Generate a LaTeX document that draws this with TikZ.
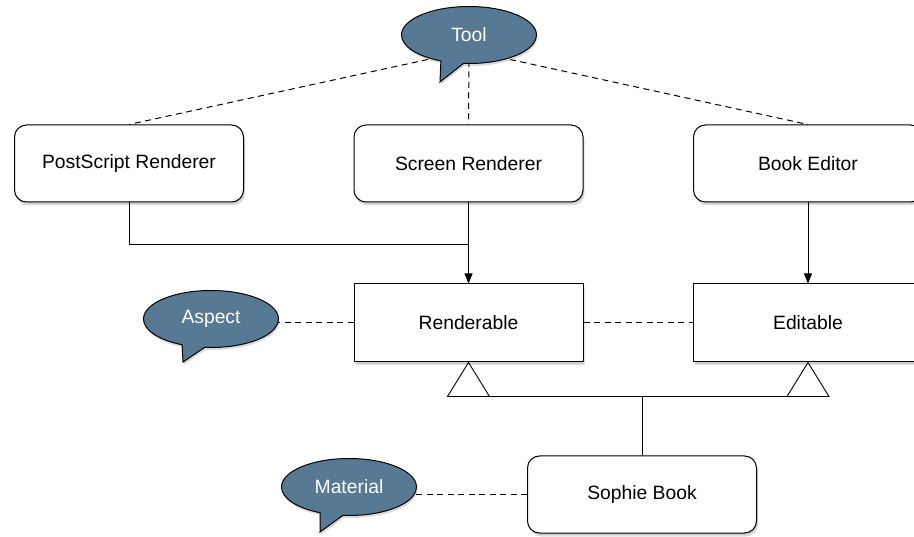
\documentclass[tikz,border=0pt]{standalone}
\usepackage{fontspec}
\setmainfont{Liberation Sans}
\usetikzlibrary{shapes.callouts,shadows,calc,arrows.meta,backgrounds}
\definecolor{bubblefill}{RGB}{88,121,147}
\begin{document}
\begin{tikzpicture}[x=1pt,y=-1pt,
  font=\fontsize{19.3}{23}\selectfont,
  box/.style={draw, line width=1pt, fill=white, minimum width=229pt, minimum height=77pt, inner sep=0pt,
    drop shadow={shadow xshift=1.5pt, shadow yshift=-3.5pt, opacity=0.25},
    drop shadow={shadow xshift=1pt, shadow yshift=-2pt, opacity=0.2}},
  rbox/.style={box, rounded corners=12pt},
  bub/.style={ellipse callout, draw, line width=1pt, fill=bubblefill, text=white,
    minimum width=135pt, minimum height=57pt, inner sep=0pt, callout pointer arc=20,
    drop shadow={shadow xshift=1pt, shadow yshift=-2.5pt, opacity=0.3}},
  dashline/.style={line width=1pt, dash pattern=on 6pt off 4.5pt},
  conn/.style={line width=0.9pt},
  arr/.style={conn, -{Triangle[length=10pt,width=8pt]}},
]
\useasboundingbox (0,0) rectangle (914,537);

% boxes
\node[rbox] (ps) at (129,163.5) {PostScript Renderer};
\node[rbox] (sr) at (468.5,163.5) {Screen Renderer};
\node[rbox] (be) at (808,163.5) {Book Editor};
\node[box, minimum height=78pt] (rend) at (468.5,323) {Renderable};
\node[box, minimum height=78pt] (edit) at (808,323) {Editable};
\node[rbox] (sb) at (642,494.5) {Sophie Book};

% bubbles
\node[bub, callout absolute pointer={(440,82)}] (tool) at (469,35) {Tool};
\node[bub, callout absolute pointer={(183,362)}] (aspect) at (211,319) {Aspect};
\node[bub, callout absolute pointer={(320,532)}] (material) at (349,487) {Material};

\coordinate (toolhub) at (469,50.5);
\coordinate (j) at (468.5,244);

\begin{pgfonlayer}{background}
  \draw[dashline] (toolhub) -- (ps.north);
  \draw[dashline] (toolhub) -- (sr.north);
  \draw[dashline] (toolhub) -- (be.north);
  \draw[dashline] (rend.west) -- (rend.west -| aspect.center);
  \draw[dashline] (rend.east) -- (edit.west);
  \draw[dashline] (sb.west) -- (sb.west -| material.center);
\end{pgfonlayer}

% solid connectors
\draw[conn] (ps.south) |- (j);
\draw[arr] (sr.south) -- (rend.north);
\draw[arr] (be.south) -- (edit.north);

% generalization
\coordinate (bl) at ($(rend.south)+(-21,34)$);
\coordinate (br) at ($(edit.south)+(21,34)$);
\draw[conn] (bl) -- (br);
\draw[conn] (sb.north) -- (sb.north |- bl);
\draw[conn, fill=white, line join=miter] (rend.south) -- (bl) -- ++(42,0) -- cycle;
\draw[conn, fill=white, line join=miter] (edit.south) -- (br) -- ++(-42,0) -- cycle;
\end{tikzpicture}
\end{document}
